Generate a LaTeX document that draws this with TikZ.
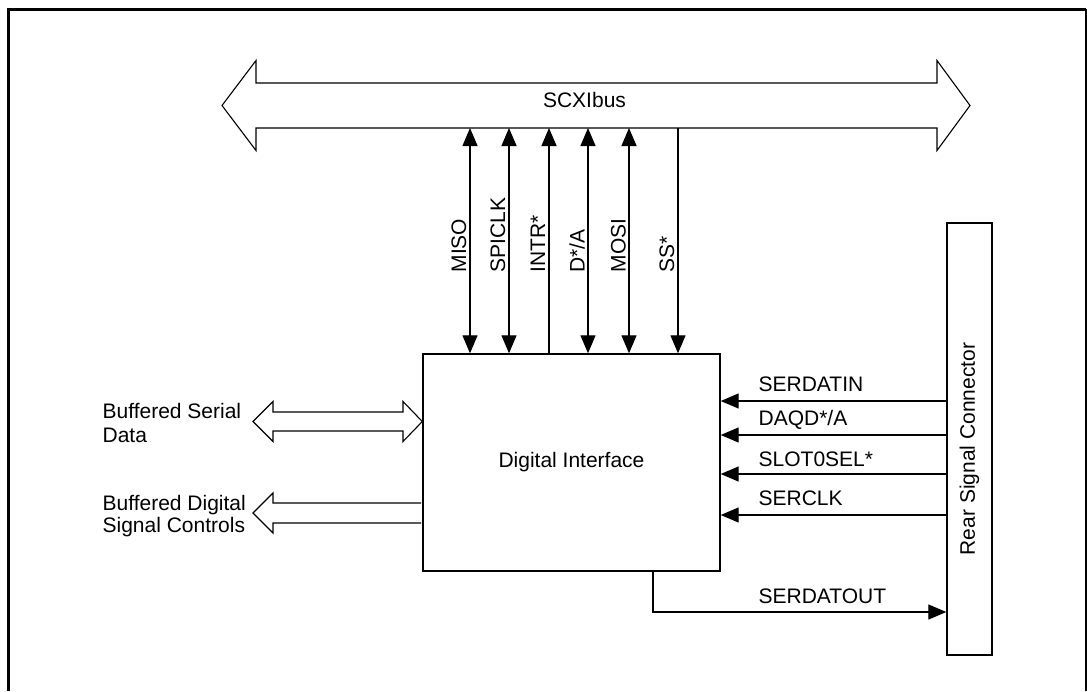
\documentclass[tikz,border=0pt]{standalone}
\usepackage{fontspec}
\setmainfont{Liberation Sans}
\usetikzlibrary{arrows.meta}
\begin{document}
\begin{tikzpicture}[x=1pt,y=-1pt,line width=1.3pt,
  >={Triangle[length=18pt,width=15pt]},
  every node/.style={font=\fontsize{21}{24}\selectfont,inner sep=0pt},
  block/.style={draw,line width=1.4pt,minimum width=297pt,minimum height=217pt},
  conn/.style={draw,line width=1.4pt,rotate=90,minimum width=432pt,minimum height=45pt},
  vlabel/.style={rotate=90,anchor=base west},
  hlabel/.style={anchor=base west},
  sig/.style={line width=1.3pt},
  hollow/.style={line width=1.1pt,line join=miter}]
\useasboundingbox (0,0) rectangle (1087,691);
% frame
\draw[line width=3pt] (8,691) -- (8,9) -- (1086,9);
\draw[line width=1.5pt] (1086,9) -- (1086,691);
% bus
\draw[hollow] (256,83) -- (937,83) -- (937,60.5) -- (970,105.5) -- (937,150.5) -- (937,128)
  -- (256,128) -- (256,150.5) -- (222,105.5) -- (256,60.5) -- cycle;
\node[anchor=base] (bus) at (584.5,107.3) {SCXIbus};
% main blocks
\node[block] (di) at (571.5,462.5) {Digital Interface};
\node[conn] (rsc) at (969.5,439) {Rear Signal Connector\hspace*{20pt}};
% bus signals
\coordinate (b1) at (470,128);
\coordinate (b2) at (509,128);
\coordinate (b3) at (549,128);
\coordinate (b4) at (588,128);
\coordinate (b5) at (629,128);
\coordinate (b6) at (678,128);
\draw[sig,<->] (b1) -- (b1 |- di.north);
\draw[sig,<->] (b2) -- (b2 |- di.north);
\draw[sig,<-]  (b3) -- (b3 |- di.north);
\draw[sig,<->] (b4) -- (b4 |- di.north);
\draw[sig,<->] (b5) -- (b5 |- di.north);
\draw[sig,->]  (b6) -- (b6 |- di.north);
\node[vlabel] (l1) at (466,273) {MISO};
\node[vlabel] (l2) at (505,273) {SPICLK};
\node[vlabel] (l3) at (545,273) {INTR*};
\node[vlabel] (l4) at (584.5,273) {D*/A};
\node[vlabel] (l5) at (625.5,273) {MOSI};
\node[vlabel] (l6) at (674,273) {SS*};
% rear connector signals
\coordinate (s1) at (947,401);
\coordinate (s2) at (947,435);
\coordinate (s3) at (947,474);
\coordinate (s4) at (947,515);
\draw[sig,->] (s1) -- (s1 -| di.east);
\draw[sig,->] (s2) -- (s2 -| di.east);
\draw[sig,->] (s3) -- (s3 -| di.east);
\draw[sig,->] (s4) -- (s4 -| di.east);
\node[hlabel] (t1) at (758,391.7) {SERDATIN};
\node[hlabel] (t2) at (758,425.7) {DAQD*/A};
\node[hlabel] (t3) at (758,466) {SLOT0SEL*};
\node[hlabel] (t4) at (758,505.7) {SERCLK};
\coordinate (o1) at (653,612);
\draw[sig,->] (o1 |- di.south) -- (o1) -- (o1 -| rsc.north);
\node[hlabel] (t5) at (758,603.3) {SERDATOUT};
% left hollow arrows
\draw[hollow] (253,421.5) -- (273,401.5) -- (273,412) -- (403,412) -- (403,401.5)
  -- (di.west |- 0,421.5) -- (403,441.5) -- (403,431) -- (273,431) -- (273,441.5) -- cycle;
\draw[hollow] (421,503) -- (273,503) -- (273,493) -- (253,513) -- (273,533) -- (273,523) -- (421,523);
\node[anchor=north west,align=left,font=\fontsize{21}{23.4}\selectfont] (bsd) at (102,402.8) {Buffered Serial\\Data};
\node[anchor=north west,align=left,font=\fontsize{21}{22}\selectfont] (bdc) at (102,494.5) {Buffered Digital\\Signal Controls};
\end{tikzpicture}
\end{document}
